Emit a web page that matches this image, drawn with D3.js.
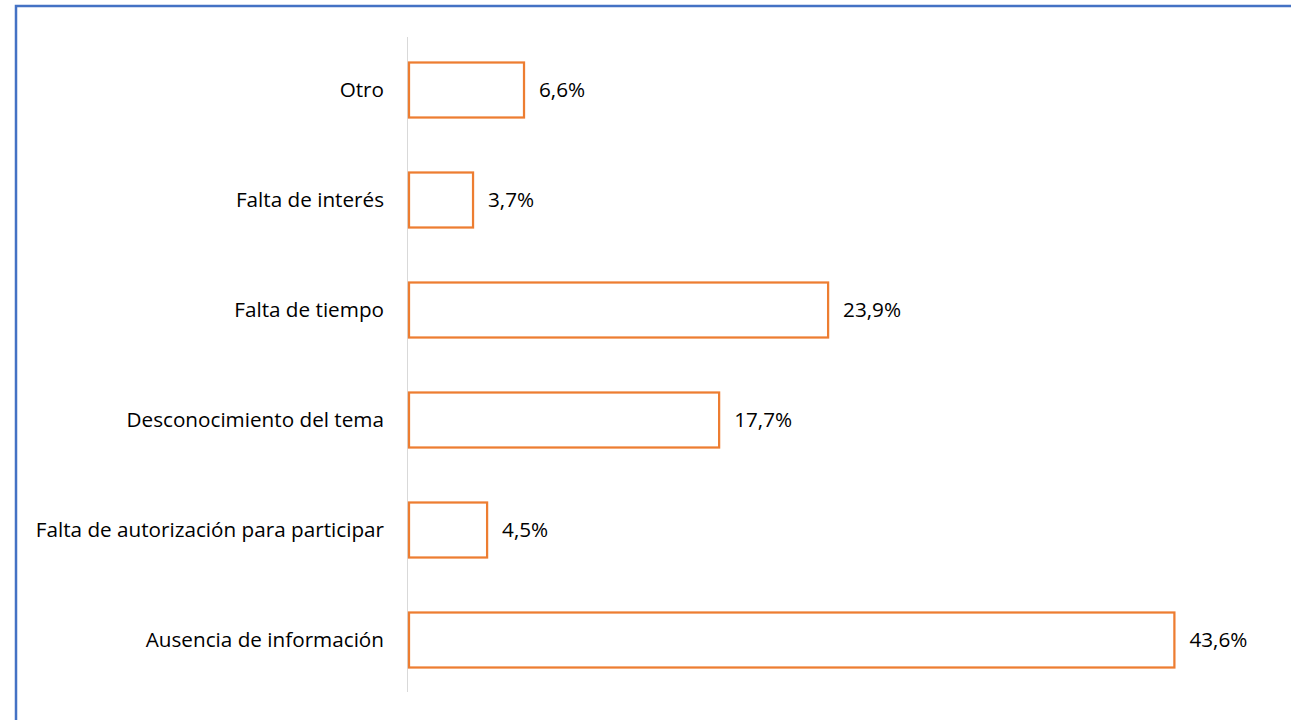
<!DOCTYPE html>
<html>
<head>
<meta charset="utf-8">
<script src="https://cdn.jsdelivr.net/npm/d3@7"></script>
<style>
  body { margin: 0; background: #fff; }
  svg text { font-family: "Open Sans", "Noto Sans", sans-serif; fill: #000; }
</style>
</head>
<body>
<svg id="svg_main" width="1291" height="720"></svg>
<script>
// categorias de arriba hacia abajo
const categories = [
    "Otro",
    "Falta de interés",
    "Falta de tiempo",
    "Desconocimiento del tema",
    "Falta de autorización para participar",
    "Ausencia de información"
];
const values = [6.6, 3.7, 23.9, 17.7, 4.5, 43.6];
const valueLabels = ["6,6%", "3,7%", "23,9%", "17,7%", "4,5%", "43,6%"];

const svg = d3.select("#svg_main");

// marco azul
svg.append("rect")
    .attr("x", 16).attr("y", 6)
    .attr("width", 1300).attr("height", 740)
    .attr("fill", "none")
    .attr("stroke", "#4472C4")
    .attr("stroke-width", 2.5);

const x = d3.scaleLinear().domain([0, 45]).range([408, 1199]);
const y = d3.scaleBand().domain(categories).range([35, 695]).paddingInner(0.5).paddingOuter(0.25);

// eje vertical
svg.append("line")
    .attr("x1", 407.5).attr("x2", 407.5)
    .attr("y1", 37).attr("y2", 692)
    .attr("stroke", "#d9d9d9")
    .attr("stroke-width", 1);

const data = categories.map((c, i) => ({cat: c, v: values[i], lbl: valueLabels[i]}));

svg.selectAll(".bar")
    .data(data)
    .enter().append("rect")
    .attr("class", "bar")
    .attr("x", x(0) + 1)
    .attr("y", d => y(d.cat))
    .attr("width", d => x(d.v) - x(0) - 1)
    .attr("height", y.bandwidth())
    .attr("fill", "#fff")
    .attr("stroke", "#ED7D31")
    .attr("stroke-width", 2.25);

svg.selectAll(".cat")
    .data(data)
    .enter().append("text")
    .attr("class", "cat")
    .attr("x", 384)
    .attr("y", d => y(d.cat) + y.bandwidth() / 2)
    .attr("dy", "0.35em")
    .attr("text-anchor", "end")
    .style("font-size", "20.7px")
    .text(d => d.cat);

svg.selectAll(".val")
    .data(data)
    .enter().append("text")
    .attr("class", "val")
    .attr("x", d => x(d.v) + 15)
    .attr("y", d => y(d.cat) + y.bandwidth() / 2)
    .attr("dy", "0.35em")
    .style("font-size", "20.7px")
    .text(d => d.lbl);
</script>
</body>
</html>
